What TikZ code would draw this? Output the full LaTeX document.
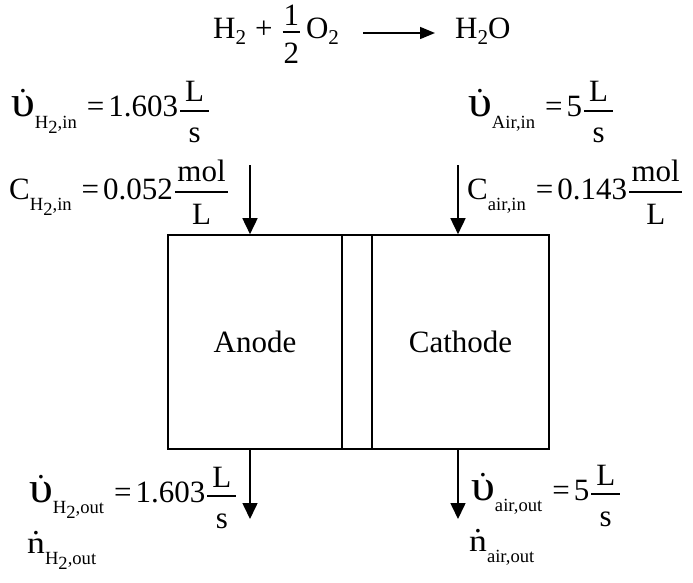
\documentclass[tikz,border=0pt]{standalone}
\usepackage{fontspec}
\setmainfont{Liberation Serif}
\usetikzlibrary{arrows.meta}
\newcommand\dotover[2]{\leavevmode\setbox0\hbox{#2}\rlap{\hbox to\wd0{\hss\raisebox{#1}{.}\hss}}\box0}
\newcommand\ups{\dotover{24pt}{\scalebox{1.55}[1.4]{υ}}}
\newcommand\ndot{\dotover{18.5pt}{\scalebox{1.15}[1]{n}}}
\newcommand\lsub[1]{\raisebox{-0.36em}{\scalebox{0.6}{#1}}}
\newcommand\ssub[1]{\raisebox{-0.3em}{#1}}
\newcommand\eqsub[1]{\raisebox{-0.18em}{\scalebox{0.68}{#1}}}
\newcommand\eqs{\hspace{10pt}=\hspace{4pt}}
% fraction: #4 = bar above baseline, #5 = numerator baseline above bar, denominator baseline 32pt below bar
\newcommand\fr[5][8pt]{\kern2pt\raisebox{#4}{%
  \setbox1\hbox{#2}\setbox2\hbox{#3}%
  \dimen0=\wd1 \ifdim\wd2>\dimen0 \dimen0=\wd2\fi \advance\dimen0 #1%
  \rlap{\raisebox{#5}{\hbox to\dimen0{\hss\box1\hss}}}%
  \rlap{\raisebox{-32pt}{\hbox to\dimen0{\hss\box2\hss}}}%
  \rule[-0.65pt]{\dimen0}{1.3pt}}\kern2pt}
\tikzset{
  lbl/.style={inner sep=0pt, anchor=base west, font=\fontsize{31}{37}\selectfont},
  cell/.style={draw, line width=1.6pt, rectangle, inner sep=0pt, minimum height=214pt, font=\fontsize{31}{37}\selectfont},
  flow/.style={line width=1.6pt, -{Triangle[length=16pt,width=15pt]}},
  eqflow/.style={line width=1.5pt, -{Triangle[length=15pt,width=12pt]}}
}
\begin{document}
\begin{tikzpicture}[x=1pt,y=-1pt]
\useasboundingbox (0,0) rectangle (693,583);
% equation
\node[lbl] (eqL) at (213,39) {H\eqsub{2}\hspace{9pt}+\hspace{8pt}\fr[2pt]{1}{2}{7pt}{6pt}\hspace{4pt}O\eqsub{2}};
\coordinate (ea) at (363,33);
\coordinate (eb) at (435,33);
\draw[eqflow] (ea) -- (eb);
\node[lbl] (eqR) at (455,39) {H\eqsub{2}O};
% cells
\node[cell, minimum width=174pt] (anode) at (255,342) {Anode};
\node[cell, minimum width=30pt] (mem) at (357,342) {};
\node[cell, minimum width=177pt] (cathode) at (460.5,342) {Cathode};
% labels
\node[lbl] (vH2in) at (11,117) {\ups\lsub{H\ssub{2},in}\eqs 1.603\fr[10pt]{L}{s}{6pt}{9pt}};
\node[lbl] (CH2in) at (9,199) {C\lsub{H\ssub{2},in}\eqs 0.052\fr[5pt]{mol}{L}{7pt}{11pt}};
\node[lbl] (vAirin) at (468,117) {\ups\lsub{Air,in}\eqs 5\fr[10pt]{L}{s}{6pt}{9pt}};
\node[lbl] (Cairin) at (467,199) {C\lsub{air,in}\eqs 0.143\fr[5pt]{mol}{L}{7pt}{11pt}};
\node[lbl] (vH2out) at (29,502) {\ups\lsub{H\ssub{2},out}\eqs 1.603\fr[10pt]{L}{s}{6pt}{9pt}};
\node[lbl] (nH2out) at (27,553) {\ndot\lsub{H\ssub{2},out}};
\node[lbl] (vairout) at (471,500) {\ups\lsub{air,out}\eqs 5\fr[10pt]{L}{s}{6pt}{9pt}};
\node[lbl] (nairout) at (469,551) {\ndot\lsub{air,out}};
% flows
\coordinate (inA) at (250,165);
\coordinate (inC) at (458,165);
\coordinate (outA) at (250,519);
\coordinate (outC) at (458,519);
\draw[flow] (inA) -- (inA |- anode.north);
\draw[flow] (inC) -- (inC |- cathode.north);
\draw[flow] (outA |- anode.south) -- (outA);
\draw[flow] (outC |- cathode.south) -- (outC);
\end{tikzpicture}
\end{document}
